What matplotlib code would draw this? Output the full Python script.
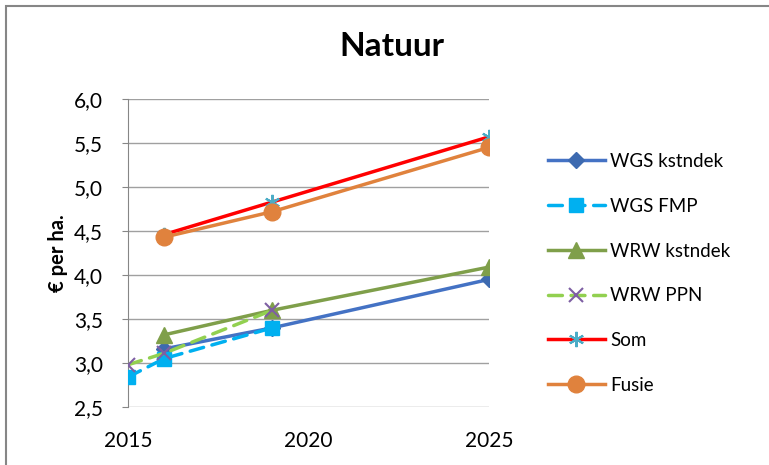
import matplotlib
matplotlib.use("Agg")
import matplotlib.pyplot as plt
from matplotlib.patches import Rectangle

plt.rcParams['font.family'] = ['Lato', 'DejaVu Sans']

title = "Natuur"
ylabel = "€ per ha."
series_names = ["WGS kstndek", "WGS FMP", "WRW kstndek", "WRW PPN", "Som", "Fusie"]

wgs_kstndek_x = [2016, 2019, 2025]
wgs_kstndek_y = [3.16, 3.40, 3.95]
wgs_fmp_x = [2015, 2016, 2019]
wgs_fmp_y = [2.84, 3.05, 3.40]
wrw_kstndek_x = [2016, 2019, 2025]
wrw_kstndek_y = [3.32, 3.60, 4.09]
wrw_ppn_x = [2015, 2016, 2019]
wrw_ppn_y = [2.98, 3.11, 3.60]
som_x = [2016, 2019, 2025]
som_y = [4.46, 4.83, 5.57]
fusie_x = [2016, 2019, 2025]
fusie_y = [4.43, 4.72, 5.45]

yticks = [2.5, 3.0, 3.5, 4.0, 4.5, 5.0, 5.5, 6.0]
xticks = [2015, 2020, 2025]

W, H = 769, 465
fig = plt.figure(figsize=(W / 100, H / 100), dpi=100)
fig.patch.set_facecolor("white")
# outer chart border (left & top visible)
fig.add_artist(Rectangle((6 / W, -0.1), 1.2, (H - 6) / H + 0.1, transform=fig.transFigure,
                         fill=False, edgecolor="#868686", linewidth=1.5))

ax = fig.add_axes([128 / W, 58 / H, (489 - 128) / W, (407 - 99) / H])
ax.set_xlim(2015, 2025)
ax.set_ylim(2.5, 6.0)
ax.set_yticks(yticks)
ax.set_yticklabels([f"{v:.1f}".replace(".", ",") for v in yticks])
ax.set_xticks(xticks)
ax.set_xticklabels([str(v) for v in xticks])
ax.grid(axis="y", color="#A0A0A0", linewidth=1)
ax.set_axisbelow(True)
for s in ["top", "right", "bottom"]:
    ax.spines[s].set_visible(False)
ax.spines["left"].set_color("#868686")
ax.tick_params(axis="y", length=4, color="#868686", labelsize=15, pad=14)
ax.tick_params(axis="x", length=0, labelsize=15, pad=17)
ax.set_ylabel(ylabel, fontsize=14.5, fontweight="bold", labelpad=4)
fig.text(392 / W, 1 - 47 / H, title, ha="center", va="center",
         fontsize=24, fontweight="bold")

lw = 2.5
ms = 10
ax.plot(wgs_kstndek_x, wgs_kstndek_y, color="#4472C4", lw=lw, marker="D", ms=8.5,
        mfc="#3D6AB0", mec="#3D6AB0", label=series_names[0], zorder=3)
ax.plot(wgs_fmp_x, wgs_fmp_y, color="#00B0F0", lw=lw, ls=(0, (4, 2.5)), dash_capstyle="round",
        marker="s", ms=ms, mfc="#00B0F0", mec="#00B0F0", label=series_names[1], zorder=3)
ax.plot(wrw_kstndek_x, wrw_kstndek_y, color="#7F9F4A", lw=lw, marker="^", ms=ms + 1,
        mfc="#7F9F4A", mec="#7F9F4A", label=series_names[2], zorder=3)
ax.plot(wrw_ppn_x, wrw_ppn_y, color="#92D050", lw=lw, ls=(0, (4, 2.5)), dash_capstyle="round",
        marker="x", ms=ms, mew=1.5, mec="#7E5FA3", label=series_names[3], zorder=4)
ax.plot(som_x, som_y, color="#FF0000", lw=lw, marker=(6, 2, 0), ms=ms + 1, mew=1.5,
        mec="#4BACC6", label=series_names[4], zorder=3)
ax.plot(fusie_x, fusie_y, color="#E0823D", lw=lw, marker="o", ms=ms + 2,
        mfc="#E0823D", mec="#E0823D", label=series_names[5], zorder=3)

leg = ax.legend(loc="upper left", bbox_to_anchor=(540 / W, 1 - 145.5 / H),
                bbox_transform=fig.transFigure, frameon=False, fontsize=13.5,
                handlelength=3.04, handletextpad=0.3, labelspacing=1.48, borderaxespad=0)

fig.savefig("out.png", dpi=100, facecolor="white")
